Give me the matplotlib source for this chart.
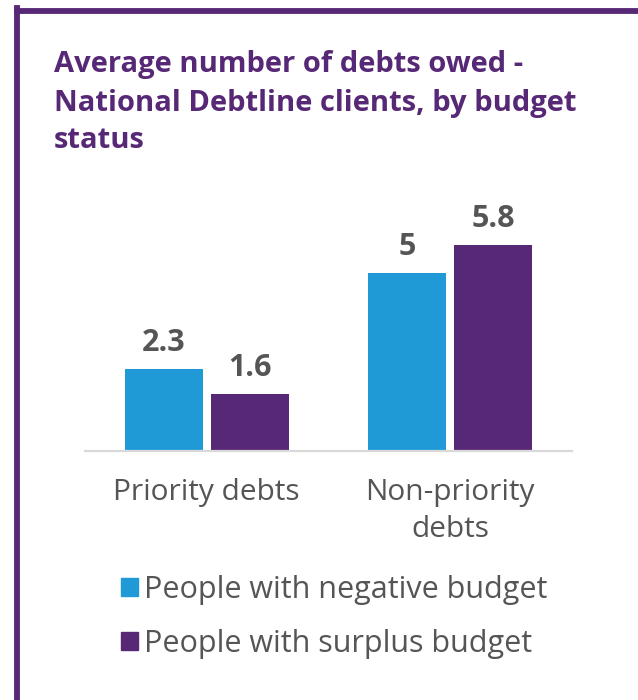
import matplotlib
matplotlib.use("Agg")
import matplotlib.pyplot as plt
from matplotlib.lines import Line2D
from matplotlib.patches import Patch
import numpy as np

categories = ["Priority debts", "Non-priority\ndebts"]
series_names = ["People with negative budget", "People with surplus budget"]
negative = [2.3, 5.0]
surplus = [1.6, 5.8]
value_labels_neg = ["2.3", "5"]
value_labels_sur = ["1.6", "5.8"]
title_lines = ["Average number of debts owed -",
               "National Debtline clients, by budget",
               "status"]

BLUE = "#1F9AD6"
PURPLE = "#572876"
GRAY = "#555555"
FONT = "Open Sans"

W, H = 638, 700
fig = plt.figure(figsize=(W / 100, H / 100), dpi=100)
fig.patch.set_facecolor("white")

# border
fig.add_artist(Line2D([16.5 / W, 16.5 / W], [0, 1 - 8 / H], color=PURPLE, lw=4.2,
                      solid_capstyle="projecting", transform=fig.transFigure))
fig.add_artist(Line2D([16.5 / W, 1.0], [1 - 11 / H, 1 - 11 / H], color=PURPLE, lw=4.2,
                      solid_capstyle="projecting", transform=fig.transFigure))

# title
for line, base in zip(title_lines, [72, 111, 148]):
    fig.text(54 / W, 1 - base / H, line, fontsize=21, fontweight="bold",
             color=PURPLE, family=FONT, ha="left", va="baseline")

ax = fig.add_axes([85 / W, 1 - 451 / H, 487 / W, 249 / H])
x = np.arange(len(categories))
bw = 0.32
gap = 0.033
b1 = ax.bar(x - bw / 2 - gap / 2, negative, bw, color=BLUE, label=series_names[0])
b2 = ax.bar(x + bw / 2 + gap / 2, surplus, bw, color=PURPLE, label=series_names[1])
for bars, labs in ((b1, value_labels_neg), (b2, value_labels_sur)):
    for r, t in zip(bars, labs):
        ax.annotate(t, (r.get_x() + r.get_width() / 2, r.get_height()),
                    xytext=(0, 13), textcoords="offset points", ha="center",
                    va="baseline", fontsize=22, fontweight="bold", color=GRAY,
                    family=FONT)

ax.set_xlim(-0.5, 1.5)
ax.set_ylim(0, 7)
ax.set_yticks([])
ax.set_xticks(x)
ax.set_xticklabels(categories, fontsize=21.5, color=GRAY, family=FONT,
                   linespacing=1.36)
ax.tick_params(axis="x", length=0, pad=19.5)
for s in ["top", "right", "left"]:
    ax.spines[s].set_visible(False)
ax.spines["bottom"].set_color("#D9D9D9")
ax.spines["bottom"].set_linewidth(1.6)
ax.set_facecolor("none")

handles = [Patch(color=BLUE), Patch(color=PURPLE)]
leg = fig.legend(handles, series_names, loc="upper left",
                 bbox_to_anchor=(121 / W, 1 - 575 / H), frameon=False,
                 prop={"family": FONT, "size": 22}, handlelength=0.55,
                 handleheight=0.55, handletextpad=0.2, labelspacing=0.78,
                 borderpad=0, borderaxespad=0)
for t in leg.get_texts():
    t.set_color(GRAY)

fig.savefig("out.png", dpi=100)
